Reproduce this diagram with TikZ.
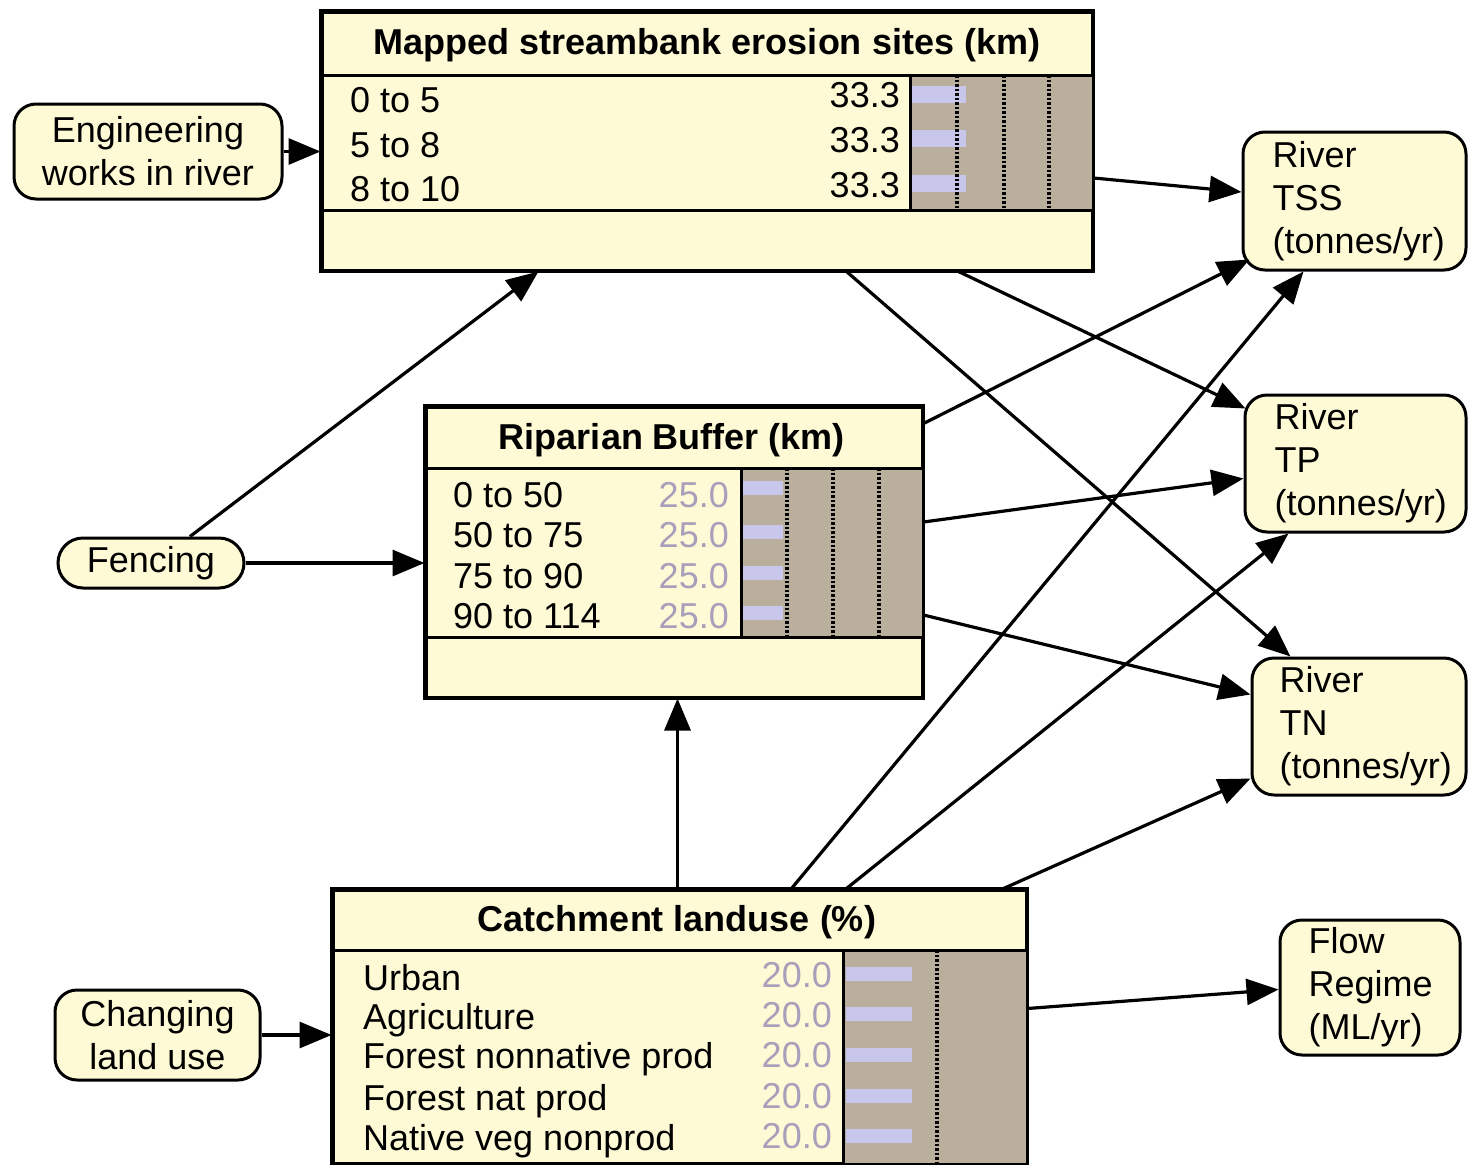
\documentclass[tikz,border=0pt]{standalone}
\usepackage{fontspec}
\setmainfont{Liberation Sans}
\usetikzlibrary{arrows.meta,calc}
\definecolor{cream}{RGB}{255,250,214}
\definecolor{bargray}{RGB}{186,175,157}
\definecolor{lav}{RGB}{200,198,235}
\definecolor{greytxt}{RGB}{168,160,186}
\begin{document}
\begin{tikzpicture}[x=1pt,y=-1pt,
  every node/.style={font=\fontsize{36}{43}\selectfont},
  tbox/.style={draw, line width=3pt, fill=cream, rectangle, inner sep=0pt},
  rbox/.style={draw, line width=3pt, fill=cream, rounded corners=22pt, inner sep=0pt},
  ttl/.style={font=\fontsize{36}{43}\selectfont\bfseries, inner sep=0pt},
  lbl/.style={anchor=base west, inner sep=0pt},
  val/.style={anchor=base east, inner sep=0pt},
  gval/.style={val, text=greytxt},
  rtxt/.style={anchor=west, align=left, inner sep=0pt},
  sep/.style={line width=3pt},
  dotl/.style={line width=3.4pt, dash pattern=on 2.5pt off 2pt},
  arr/.style={line width=3.2pt, -{Triangle[length=32pt,width=26pt]}},
]
\useasboundingbox (0,0) rectangle (1468,1165);
\fill[white] (0,0) rectangle (1468,1165);

% ---------- Mapped streambank erosion sites ----------
\node[tbox, minimum width=770pt, minimum height=258pt] (mapped) at (707,141) {};
\fill[bargray] (910,75) rectangle (1092,210);
\fill[lav] (912,86) rectangle (966,103);
\fill[lav] (912,130) rectangle (966,147);
\fill[lav] (912,175) rectangle (966,192);
\draw[dotl] (957,75) -- (957,210);
\draw[dotl] (1004,75) -- (1004,210);
\draw[dotl] (1049,75) -- (1049,210);
\draw[sep] (322,75) -- (1092,75);
\draw[sep] (322,210) -- (1092,210);
\draw[sep] (910,75) -- (910,210);
\draw[line width=3pt] (mapped.north west) rectangle (mapped.south east);
\node[ttl] (mappedT) at (707,45) {Mapped streambank erosion sites (km)};
\node[lbl] (m1) at (350,112) {0 to 5};
\node[lbl] (m2) at (350,157) {5 to 8};
\node[lbl] (m3) at (350,201) {8 to 10};
\node[val] (mv1) at (900,107) {33.3};
\node[val] (mv2) at (900,152) {33.3};
\node[val] (mv3) at (900,197) {33.3};

% ---------- Riparian Buffer ----------
\node[tbox, minimum width=496pt, minimum height=290pt] (ripar) at (674,552) {};
\fill[bargray] (741,468) rectangle (922,637);
\fill[lav] (743,481) rectangle (783,495);
\fill[lav] (743,525) rectangle (783,539);
\fill[lav] (743,566) rectangle (783,580);
\fill[lav] (743,606) rectangle (783,620);
\draw[dotl] (787,468) -- (787,637);
\draw[dotl] (833,468) -- (833,637);
\draw[dotl] (879,468) -- (879,637);
\draw[sep] (426,468) -- (922,468);
\draw[sep] (426,637) -- (922,637);
\draw[sep] (741,468) -- (741,637);
\draw[line width=3pt] (ripar.north west) rectangle (ripar.south east);
\node[ttl] (riparT) at (672,440) {Riparian Buffer (km)};
\node[lbl] (r1) at (453,507) {0 to 50};
\node[lbl] (r2) at (453,547) {50 to 75};
\node[lbl] (r3) at (453,588) {75 to 90};
\node[lbl] (r4) at (453,628) {90 to 114};
\node[gval] (rv1) at (729,507) {25.0};
\node[gval] (rv2) at (729,547) {25.0};
\node[gval] (rv3) at (729,588) {25.0};
\node[gval] (rv4) at (729,628) {25.0};

% ---------- Catchment landuse ----------
\node[tbox, minimum width=693pt, minimum height=273pt] (catch) at (679.5,1026.5) {};
\fill[bargray] (843,950) rectangle (1026,1163);
\fill[lav] (846,967) rectangle (912,981);
\fill[lav] (846,1007) rectangle (912,1021);
\fill[lav] (846,1048) rectangle (912,1062);
\fill[lav] (846,1089) rectangle (912,1103);
\fill[lav] (846,1129) rectangle (912,1143);
\draw[dotl] (937,950) -- (937,1163);
\draw[sep] (333,950) -- (1026,950);
\draw[sep] (843,950) -- (843,1163);
\draw[line width=3pt] (catch.north west) rectangle (catch.south east);
\node[ttl] (catchT) at (677,922) {Catchment landuse (\%)};
\node[lbl] (c1) at (363,990) {Urban};
\node[lbl] (c2) at (363,1029) {Agriculture};
\node[lbl] (c3) at (363,1068) {Forest nonnative prod};
\node[lbl] (c4) at (363,1110) {Forest nat prod};
\node[lbl] (c5) at (363,1150) {Native veg nonprod};
\node[gval] (cv1) at (832,987) {20.0};
\node[gval] (cv2) at (832,1027) {20.0};
\node[gval] (cv3) at (832,1067) {20.0};
\node[gval] (cv4) at (832,1108) {20.0};
\node[gval] (cv5) at (832,1148) {20.0};

% ---------- Rounded boxes ----------
\node[rbox, minimum width=268pt, minimum height=95pt, align=center] (eng) at (148,151.5) {Engineering\\works in river};
\node[rbox, rounded corners=25pt, minimum width=186pt, minimum height=50pt] (fence) at (151,563) {Fencing};
\node[rbox, minimum width=205pt, minimum height=90pt, align=center] (change) at (157.5,1035) {Changing\\land use};

\node[rbox, minimum width=223pt, minimum height=138pt] (tss) at (1354.5,201) {};
\node[rtxt] (tssT) at ($(tss.west)+(31,0)$) {River\\TSS\\(tonnes/yr)};
\node[rbox, minimum width=221pt, minimum height=137pt] (tp) at (1355.5,463.5) {};
\node[rtxt] (tpT) at ($(tp.west)+(31,0)$) {River\\TP\\(tonnes/yr)};
\node[rbox, minimum width=214pt, minimum height=137pt] (tn) at (1359,726.5) {};
\node[rtxt] (tnT) at ($(tn.west)+(29,0)$) {River\\TN\\(tonnes/yr)};
\node[rbox, minimum width=180pt, minimum height=135pt] (flow) at (1370,987.5) {};
\node[rtxt] (flowT) at ($(flow.west)+(30,0)$) {Flow\\Regime\\(ML/yr)};

% ---------- Connectors ----------
\draw[arr] (eng.east) -- (mapped.west |- eng.east);
\draw[arr] ($(fence.north)+(39,0)$) -- ($(mapped.south west)+(218,0)$);
\draw[arr] (fence.east) -- (ripar.west |- fence.east);
\draw[arr] (change.east) -- (catch.west |- change.east);
\draw[arr] ($(catch.north west)+(346,0)$) -- ($(ripar.south west)+(253,0)$);
\draw[arr] ($(mapped.east)+(0,37)$) -- ($(tss.west)+(0,-9)$);
\draw[arr] ($(mapped.south west)+(638,0)$) -- ($(tp.north west)+(2,15)$);
\draw[arr] ($(mapped.south west)+(526,0)$) -- ($(tn.north west)+(40,0)$);
\draw[arr] ($(ripar.north east)+(0,18)$) -- ($(tss.south west)+(8,-12)$);
\draw[arr] ($(ripar.east)+(0,-30)$) -- ($(tp.west)+(0,15)$);
\draw[arr] ($(ripar.east)+(0,63)$) -- ($(tn.west)+(0,-32)$);
\draw[arr] ($(catch.north west)+(460,0)$) -- ($(tss.south west)+(62,0)$);
\draw[arr] ($(catch.north west)+(515,0)$) -- ($(tp.south west)+(45,0)$);
\draw[arr] ($(catch.north west)+(672,0)$) -- ($(tn.west)+(0,52)$);
\draw[arr] ($(catch.east)+(0,-18)$) -- ($(flow.west)+(0,2)$);
\end{tikzpicture}
\end{document}
